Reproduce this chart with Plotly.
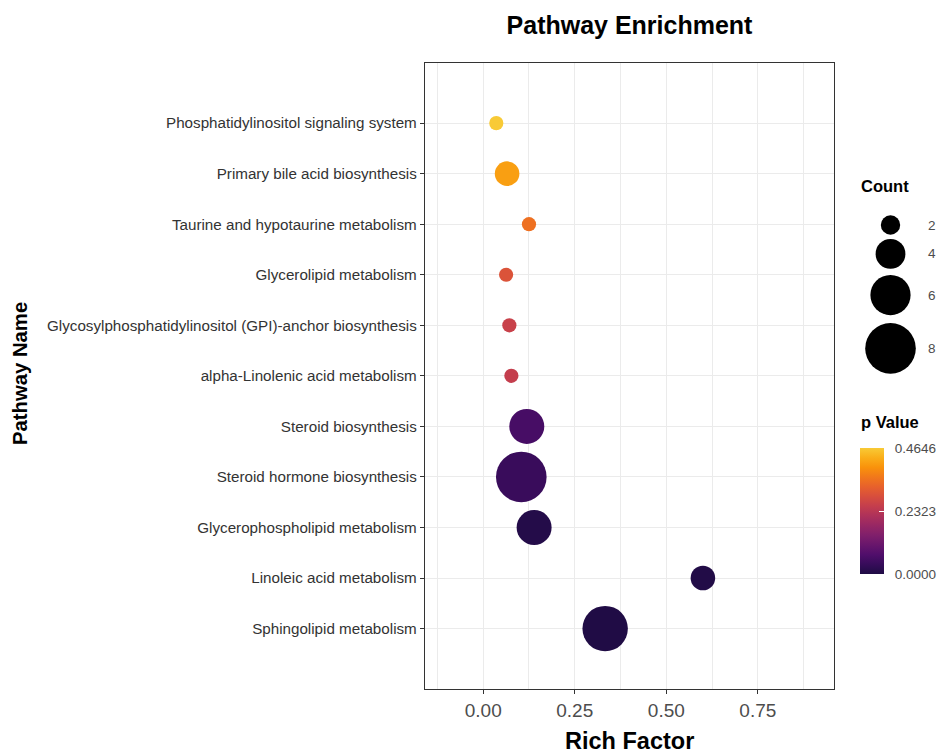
import numpy as np
import plotly.graph_objects as go
import plotly.colors as pc

# ---------------- data (top to bottom as shown) ----------------
pathways = [
    "Phosphatidylinositol signaling system",
    "Primary bile acid biosynthesis",
    "Taurine and hypotaurine metabolism",
    "Glycerolipid metabolism",
    "Glycosylphosphatidylinositol (GPI)-anchor biosynthesis",
    "alpha-Linolenic acid metabolism",
    "Steroid biosynthesis",
    "Steroid hormone biosynthesis",
    "Glycerophospholipid metabolism",
    "Linoleic acid metabolism",
    "Sphingolipid metabolism",
]
rich_factor = [0.0357, 0.0652, 0.125, 0.0625, 0.0714, 0.0769, 0.119, 0.104, 0.139, 0.600, 0.333]
counts = [1, 3, 1, 1, 1, 1, 5, 8, 5, 3, 7]
p_values = [0.4646, 0.41, 0.345, 0.295, 0.257, 0.25, 0.058, 0.038, 0.008, 0.005, 0.002]

legend_counts = [2, 4, 6, 8]
cbar_tickvals = [0.0, 0.2323, 0.4646]
cbar_ticktext = ["0.0000", "0.2323", "0.4646"]
x_tickvals = [0.0, 0.25, 0.50, 0.75]
x_ticktext = ["0.00", "0.25", "0.50", "0.75"]

# ---------------- styles / scales ----------------
W, H = 937, 754
FONT = "Liberation Sans, Arial, sans-serif"
NBSP = "\u00a0"


def size_px(c):
    return 9 + 5.2 * c


inf = [pc.hex_to_rgb(c) for c in pc.sequential.Inferno]
base = [[i / (len(inf) - 1), "rgb(%d,%d,%d)" % c] for i, c in enumerate(inf)]
pos = list(np.linspace(0.12, 0.875, 14))
cols = pc.sample_colorscale(base, pos)
cscale = [[i / (len(cols) - 1), c] for i, c in enumerate(cols)]

# plot area in pixels
PL, PR, PT, PB = 425, 834, 62.7, 689

fig = go.Figure()

fig.add_trace(go.Scatter(
    x=rich_factor,
    y=pathways,
    mode="markers",
    marker=dict(
        size=[size_px(c) for c in counts],
        sizemode="diameter",
        color=p_values,
        colorscale=cscale,
        cmin=0,
        cmax=max(cbar_tickvals),
        line=dict(width=0),
        opacity=1,
        showscale=True,
        colorbar=dict(
            x=860 / W, xanchor="left", xpad=0,
            y=1 - 574 / H, yanchor="bottom", ypad=0,
            len=126, lenmode="pixels",
            thickness=24, thicknessmode="pixels",
            outlinewidth=0,
            tickvals=cbar_tickvals,
            ticktext=[NBSP * 2 + t for t in cbar_ticktext],
            ticks="inside", ticklen=5, tickcolor="white", tickwidth=1,
            tickfont=dict(family=FONT, size=13.5, color="#4d4d4d"),
        ),
    ),
    xaxis="x", yaxis="y",
    showlegend=False,
    hoverinfo="skip",
))

# ---------------- Count legend (pixel-unit axes) ----------------
leg_d = [size_px(c) for c in legend_counts]
leg_h = [1.175 * d for d in leg_d]
top = 225 - leg_h[0] / 2
centers = []
acc = top
for h in leg_h:
    centers.append(acc + h / 2)
    acc += h

fig.add_trace(go.Scatter(
    x=[890.5] * len(legend_counts),
    y=centers,
    mode="markers",
    marker=dict(size=leg_d, sizemode="diameter", color="#000000", opacity=1,
                line=dict(width=0, color="#000000")),
    xaxis="x2", yaxis="y2",
    showlegend=False, hoverinfo="skip", cliponaxis=False,
))

annotations = [
    dict(text="<b>Rich Factor</b>", x=(PL + PR) / 2 / W, y=1 - 741 / H, xref="paper", yref="paper",
         xanchor="center", yanchor="middle", showarrow=False,
         font=dict(family=FONT, size=23.5, color="black")),
    dict(text="<b>Pathway Name</b>", x=20 / W, y=1 - 374 / H, xref="paper", yref="paper",
         xanchor="center", yanchor="middle", showarrow=False, textangle=-90,
         font=dict(family=FONT, size=20.3, color="black")),
    dict(text="<b>Count</b>", x=859 / W, y=1 - 186 / H, xref="paper", yref="paper",
         xanchor="left", yanchor="middle", showarrow=False,
         font=dict(family=FONT, size=16.5, color="black")),
    dict(text="<b>p Value</b>", x=859 / W, y=1 - 422 / H, xref="paper", yref="paper",
         xanchor="left", yanchor="middle", showarrow=False,
         font=dict(family=FONT, size=16.5, color="black")),
]
for c, yc in zip(legend_counts, centers):
    annotations.append(dict(
        text=str(c), x=926 / W, y=1 - yc / H, xref="paper", yref="paper",
        xanchor="left", yanchor="middle", showarrow=False,
        font=dict(family=FONT, size=13.5, color="#4d4d4d"),
    ))

fig.update_layout(
    width=W, height=H,
    margin=dict(l=0, r=0, t=0, b=0, pad=0, autoexpand=False),
    paper_bgcolor="white",
    plot_bgcolor="white",
    font=dict(family=FONT, color="#333333"),
    title=dict(
        text="<b>Pathway Enrichment</b>",
        x=(PL + PR) / 2 / W, xanchor="center",
        y=1 - 25 / H, yanchor="middle",
        font=dict(family=FONT, size=25, color="black"),
    ),
    xaxis=dict(
        domain=[PL / W, PR / W],
        range=[-0.159, 0.958],
        tickvals=x_tickvals, ticktext=x_ticktext,
        tickfont=dict(family=FONT, size=19, color="#4d4d4d"),
        ticks="outside", ticklen=4, tickcolor="#333333", tickwidth=1,
        showgrid=True, gridcolor="#ebebeb", gridwidth=1.1,
        minor=dict(dtick=0.125, tick0=-0.125, showgrid=True, gridcolor="#ebebeb", gridwidth=0.8, ticks=""),
        showline=True, linecolor="#333333", linewidth=1.4, mirror=True,
        zeroline=False,
        anchor="y",
    ),
    yaxis=dict(
        domain=[1 - PB / H, 1 - PT / H],
        type="category",
        categoryorder="array",
        categoryarray=pathways[::-1],
        range=[-1.195, len(pathways) - 1 + 1.195],
        tickfont=dict(family=FONT, size=15.2, color="#333333"),
        ticks="outside", ticklen=4, tickcolor="#333333", tickwidth=1,
        showgrid=True, gridcolor="#ebebeb", gridwidth=1.1,
        showline=True, linecolor="#333333", linewidth=1.4, mirror=True,
        zeroline=False,
        anchor="x",
    ),
    xaxis2=dict(domain=[850 / W, 1], range=[850, W], visible=False, anchor="y2", fixedrange=True),
    yaxis2=dict(domain=[0, 1], range=[H, 0], visible=False, anchor="x2", fixedrange=True),
    annotations=annotations,
)

fig.write_html(
    "out.html",
    config={"displayModeBar": False},
    post_script="document.body.style.margin='0';document.body.style.overflow='hidden';",
)
